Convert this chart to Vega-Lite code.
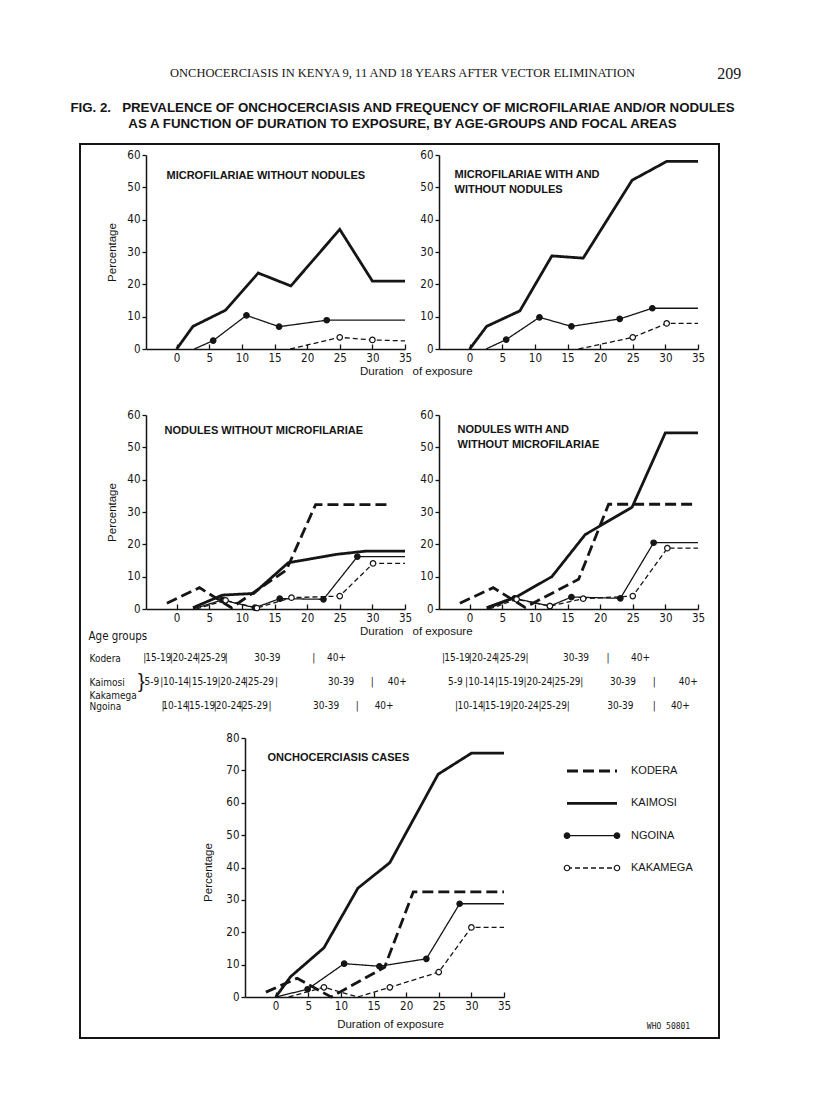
{
  "$schema": "https://vega.github.io/schema/vega-lite/v6.json",
  "background": "white",
  "padding": {"left": 68, "top": 66, "right": 20, "bottom": 40},
  "config": {
    "view": {"stroke": null},
    "axis": {"grid": false, "domainColor": "#151515", "domainWidth": 1.5, "tickColor": "#151515", "tickWidth": 1.3, "labelColor": "#151515", "labelFont": "Liberation Sans Narrow, DejaVu Sans Condensed, sans-serif", "labelFontSize": 11.5, "titleColor": "#151515", "titleFont": "Liberation Sans, sans-serif", "titleFontWeight": "normal", "titleFontSize": 11.5},
    "text": {"color": "#151515"},
    "title": {"color": "#151515", "subtitleColor": "#151515"}
  },
  "datasets": {
    "series": [
      {"panel":"A","area":"Kaimosi","duration":0,"percent":0,"point":"no"},
      {"panel":"A","area":"Kaimosi","duration":2.5,"percent":7,"point":"no"},
      {"panel":"A","area":"Kaimosi","duration":7.5,"percent":12,"point":"no"},
      {"panel":"A","area":"Kaimosi","duration":12.5,"percent":23.5,"point":"no"},
      {"panel":"A","area":"Kaimosi","duration":17.5,"percent":19.5,"point":"no"},
      {"panel":"A","area":"Kaimosi","duration":25,"percent":37,"point":"no"},
      {"panel":"A","area":"Kaimosi","duration":30,"percent":21,"point":"no"},
      {"panel":"A","area":"Kaimosi","duration":35,"percent":21,"point":"no"},
      {"panel":"A","area":"Ngoina","duration":2.7,"percent":0,"point":"no"},
      {"panel":"A","area":"Ngoina","duration":5.6,"percent":2.6,"point":"yes"},
      {"panel":"A","area":"Ngoina","duration":10.7,"percent":10.4,"point":"yes"},
      {"panel":"A","area":"Ngoina","duration":15.7,"percent":6.9,"point":"yes"},
      {"panel":"A","area":"Ngoina","duration":23,"percent":8.9,"point":"yes"},
      {"panel":"A","area":"Ngoina","duration":35,"percent":8.9,"point":"no"},
      {"panel":"A","area":"Kakamega","duration":17.4,"percent":0,"point":"no"},
      {"panel":"A","area":"Kakamega","duration":25,"percent":3.6,"point":"yes"},
      {"panel":"A","area":"Kakamega","duration":30,"percent":2.8,"point":"yes"},
      {"panel":"A","area":"Kakamega","duration":35,"percent":2.5,"point":"no"},

      {"panel":"B","area":"Kaimosi","duration":0,"percent":0,"point":"no"},
      {"panel":"B","area":"Kaimosi","duration":2.6,"percent":7,"point":"no"},
      {"panel":"B","area":"Kaimosi","duration":7.7,"percent":11.8,"point":"no"},
      {"panel":"B","area":"Kaimosi","duration":12.6,"percent":28.8,"point":"no"},
      {"panel":"B","area":"Kaimosi","duration":17.4,"percent":28.1,"point":"no"},
      {"panel":"B","area":"Kaimosi","duration":24.9,"percent":52.2,"point":"no"},
      {"panel":"B","area":"Kaimosi","duration":30.2,"percent":58,"point":"no"},
      {"panel":"B","area":"Kaimosi","duration":35,"percent":58,"point":"no"},
      {"panel":"B","area":"Ngoina","duration":2.5,"percent":0,"point":"no"},
      {"panel":"B","area":"Ngoina","duration":5.6,"percent":2.9,"point":"yes"},
      {"panel":"B","area":"Ngoina","duration":10.7,"percent":9.8,"point":"yes"},
      {"panel":"B","area":"Ngoina","duration":15.6,"percent":7,"point":"yes"},
      {"panel":"B","area":"Ngoina","duration":23,"percent":9.3,"point":"yes"},
      {"panel":"B","area":"Ngoina","duration":28,"percent":12.6,"point":"yes"},
      {"panel":"B","area":"Ngoina","duration":35,"percent":12.6,"point":"no"},
      {"panel":"B","area":"Kakamega","duration":16.7,"percent":0,"point":"no"},
      {"panel":"B","area":"Kakamega","duration":25,"percent":3.6,"point":"yes"},
      {"panel":"B","area":"Kakamega","duration":30.2,"percent":7.9,"point":"yes"},
      {"panel":"B","area":"Kakamega","duration":35,"percent":7.9,"point":"no"},

      {"panel":"C","area":"Kodera","duration":-1.5,"percent":1.8,"point":"no"},
      {"panel":"C","area":"Kodera","duration":3.5,"percent":6.6,"point":"no"},
      {"panel":"C","area":"Kodera","duration":8.4,"percent":0.4,"point":"no"},
      {"panel":"C","area":"Kodera","duration":16.8,"percent":12,"point":"no"},
      {"panel":"C","area":"Kodera","duration":21.3,"percent":32.3,"point":"no"},
      {"panel":"C","area":"Kodera","duration":32.7,"percent":32.3,"point":"no"},
      {"panel":"C","area":"Kaimosi","duration":2.5,"percent":0.4,"point":"no"},
      {"panel":"C","area":"Kaimosi","duration":7,"percent":4.3,"point":"no"},
      {"panel":"C","area":"Kaimosi","duration":11.8,"percent":4.8,"point":"no"},
      {"panel":"C","area":"Kaimosi","duration":17.1,"percent":14.3,"point":"no"},
      {"panel":"C","area":"Kaimosi","duration":24.5,"percent":16.9,"point":"no"},
      {"panel":"C","area":"Kaimosi","duration":29,"percent":17.9,"point":"no"},
      {"panel":"C","area":"Kaimosi","duration":35,"percent":17.9,"point":"no"},
      {"panel":"C","area":"Ngoina","duration":2.5,"percent":0,"point":"no"},
      {"panel":"C","area":"Ngoina","duration":7,"percent":2.8,"point":"yes"},
      {"panel":"C","area":"Ngoina","duration":12,"percent":0.4,"point":"yes"},
      {"panel":"C","area":"Ngoina","duration":15.8,"percent":3.2,"point":"yes"},
      {"panel":"C","area":"Ngoina","duration":22.5,"percent":3,"point":"yes"},
      {"panel":"C","area":"Ngoina","duration":27.7,"percent":16.2,"point":"yes"},
      {"panel":"C","area":"Ngoina","duration":35,"percent":16.2,"point":"no"},
      {"panel":"C","area":"Kakamega","duration":3,"percent":0,"point":"no"},
      {"panel":"C","area":"Kakamega","duration":7.5,"percent":2.7,"point":"yes"},
      {"panel":"C","area":"Kakamega","duration":12.3,"percent":0.3,"point":"yes"},
      {"panel":"C","area":"Kakamega","duration":17.6,"percent":3.5,"point":"yes"},
      {"panel":"C","area":"Kakamega","duration":25,"percent":4,"point":"yes"},
      {"panel":"C","area":"Kakamega","duration":30.1,"percent":14.1,"point":"yes"},
      {"panel":"C","area":"Kakamega","duration":35,"percent":14.1,"point":"no"},

      {"panel":"D","area":"Kodera","duration":-1.5,"percent":1.8,"point":"no"},
      {"panel":"D","area":"Kodera","duration":3.6,"percent":6.6,"point":"no"},
      {"panel":"D","area":"Kodera","duration":8.5,"percent":0.5,"point":"no"},
      {"panel":"D","area":"Kodera","duration":16.7,"percent":9.2,"point":"no"},
      {"panel":"D","area":"Kodera","duration":21.3,"percent":32.4,"point":"no"},
      {"panel":"D","area":"Kodera","duration":34.8,"percent":32.4,"point":"no"},
      {"panel":"D","area":"Kaimosi","duration":2.6,"percent":0.4,"point":"no"},
      {"panel":"D","area":"Kaimosi","duration":7.2,"percent":3.8,"point":"no"},
      {"panel":"D","area":"Kaimosi","duration":12.6,"percent":10,"point":"no"},
      {"panel":"D","area":"Kaimosi","duration":17.7,"percent":23,"point":"no"},
      {"panel":"D","area":"Kaimosi","duration":24.9,"percent":31.5,"point":"no"},
      {"panel":"D","area":"Kaimosi","duration":30,"percent":54.5,"point":"no"},
      {"panel":"D","area":"Kaimosi","duration":35,"percent":54.5,"point":"no"},
      {"panel":"D","area":"Ngoina","duration":2.6,"percent":0,"point":"no"},
      {"panel":"D","area":"Ngoina","duration":6.9,"percent":3.3,"point":"yes"},
      {"panel":"D","area":"Ngoina","duration":12.3,"percent":0.9,"point":"yes"},
      {"panel":"D","area":"Ngoina","duration":15.6,"percent":3.7,"point":"yes"},
      {"panel":"D","area":"Ngoina","duration":23.1,"percent":3.3,"point":"yes"},
      {"panel":"D","area":"Ngoina","duration":28.2,"percent":20.5,"point":"yes"},
      {"panel":"D","area":"Ngoina","duration":35,"percent":20.5,"point":"no"},
      {"panel":"D","area":"Kakamega","duration":3,"percent":0,"point":"no"},
      {"panel":"D","area":"Kakamega","duration":7.2,"percent":3,"point":"yes"},
      {"panel":"D","area":"Kakamega","duration":12.3,"percent":0.9,"point":"yes"},
      {"panel":"D","area":"Kakamega","duration":17.4,"percent":3.2,"point":"yes"},
      {"panel":"D","area":"Kakamega","duration":25,"percent":4,"point":"yes"},
      {"panel":"D","area":"Kakamega","duration":30.3,"percent":18.8,"point":"yes"},
      {"panel":"D","area":"Kakamega","duration":35,"percent":18.8,"point":"no"},

      {"panel":"E","area":"Kodera","duration":-1.5,"percent":1.5,"point":"no"},
      {"panel":"E","area":"Kodera","duration":3.3,"percent":5.8,"point":"no"},
      {"panel":"E","area":"Kodera","duration":8.5,"percent":0,"point":"no"},
      {"panel":"E","area":"Kodera","duration":16.7,"percent":9.2,"point":"no"},
      {"panel":"E","area":"Kodera","duration":21.1,"percent":32.5,"point":"no"},
      {"panel":"E","area":"Kodera","duration":35,"percent":32.5,"point":"no"},
      {"panel":"E","area":"Kaimosi","duration":0,"percent":0,"point":"no"},
      {"panel":"E","area":"Kaimosi","duration":2.3,"percent":6.3,"point":"no"},
      {"panel":"E","area":"Kaimosi","duration":7.4,"percent":15.2,"point":"no"},
      {"panel":"E","area":"Kaimosi","duration":12.6,"percent":33.6,"point":"no"},
      {"panel":"E","area":"Kaimosi","duration":17.5,"percent":41.5,"point":"no"},
      {"panel":"E","area":"Kaimosi","duration":24.9,"percent":68.8,"point":"no"},
      {"panel":"E","area":"Kaimosi","duration":30,"percent":75.3,"point":"no"},
      {"panel":"E","area":"Kaimosi","duration":35,"percent":75.3,"point":"no"},
      {"panel":"E","area":"Ngoina","duration":0,"percent":0,"point":"no"},
      {"panel":"E","area":"Ngoina","duration":4.9,"percent":2.4,"point":"yes"},
      {"panel":"E","area":"Ngoina","duration":10.5,"percent":10.3,"point":"yes"},
      {"panel":"E","area":"Ngoina","duration":15.9,"percent":9.5,"point":"yes"},
      {"panel":"E","area":"Ngoina","duration":23.1,"percent":11.8,"point":"yes"},
      {"panel":"E","area":"Ngoina","duration":28.2,"percent":28.8,"point":"yes"},
      {"panel":"E","area":"Ngoina","duration":35,"percent":28.8,"point":"no"},
      {"panel":"E","area":"Kakamega","duration":2,"percent":0,"point":"no"},
      {"panel":"E","area":"Kakamega","duration":7.4,"percent":3,"point":"yes"},
      {"panel":"E","area":"Kakamega","duration":12.6,"percent":0,"point":"no"},
      {"panel":"E","area":"Kakamega","duration":17.5,"percent":3,"point":"yes"},
      {"panel":"E","area":"Kakamega","duration":25,"percent":7.7,"point":"yes"},
      {"panel":"E","area":"Kakamega","duration":30,"percent":21.5,"point":"yes"},
      {"panel":"E","area":"Kakamega","duration":35,"percent":21.5,"point":"no"}
    ],
    "agegroups": [
      {"side":"left","area":"Kodera","duration":-4.9,"label":"|"},
      {"side":"left","area":"Kodera","duration":-2.8,"label":"15-19"},
      {"side":"left","area":"Kodera","duration":-0.8,"label":"|"},
      {"side":"left","area":"Kodera","duration":1.35,"label":"20-24"},
      {"side":"left","area":"Kodera","duration":3.4,"label":"|"},
      {"side":"left","area":"Kodera","duration":5.6,"label":"25-29"},
      {"side":"left","area":"Kodera","duration":7.6,"label":"|"},
      {"side":"left","area":"Kodera","duration":13.9,"label":"30-39"},
      {"side":"left","area":"Kodera","duration":21,"label":"|"},
      {"side":"left","area":"Kodera","duration":24.5,"label":"40+"},
      {"side":"left","area":"Kaimosi Kakamega","duration":-3.8,"label":"5-9"},
      {"side":"left","area":"Kaimosi Kakamega","duration":-2.3,"label":"|"},
      {"side":"left","area":"Kaimosi Kakamega","duration":-0.1,"label":"10-14"},
      {"side":"left","area":"Kaimosi Kakamega","duration":2,"label":"|"},
      {"side":"left","area":"Kaimosi Kakamega","duration":4.3,"label":"15-19"},
      {"side":"left","area":"Kaimosi Kakamega","duration":6.5,"label":"|"},
      {"side":"left","area":"Kaimosi Kakamega","duration":8.7,"label":"20-24"},
      {"side":"left","area":"Kaimosi Kakamega","duration":10.7,"label":"|"},
      {"side":"left","area":"Kaimosi Kakamega","duration":12.9,"label":"25-29"},
      {"side":"left","area":"Kaimosi Kakamega","duration":15.3,"label":"|"},
      {"side":"left","area":"Kaimosi Kakamega","duration":25.2,"label":"30-39"},
      {"side":"left","area":"Kaimosi Kakamega","duration":30,"label":"|"},
      {"side":"left","area":"Kaimosi Kakamega","duration":33.8,"label":"40+"},
      {"side":"left","area":"Ngoina","duration":-2.1,"label":"|"},
      {"side":"left","area":"Ngoina","duration":-0.2,"label":"10-14"},
      {"side":"left","area":"Ngoina","duration":1.8,"label":"|"},
      {"side":"left","area":"Ngoina","duration":3.9,"label":"15-19"},
      {"side":"left","area":"Ngoina","duration":5.9,"label":"|"},
      {"side":"left","area":"Ngoina","duration":8,"label":"20-24"},
      {"side":"left","area":"Ngoina","duration":10,"label":"|"},
      {"side":"left","area":"Ngoina","duration":12,"label":"25-29"},
      {"side":"left","area":"Ngoina","duration":14.3,"label":"|"},
      {"side":"left","area":"Ngoina","duration":22.9,"label":"30-39"},
      {"side":"left","area":"Ngoina","duration":27.7,"label":"|"},
      {"side":"left","area":"Ngoina","duration":31.8,"label":"40+"},
      {"side":"right","area":"Kodera","duration":-4,"label":"|"},
      {"side":"right","area":"Kodera","duration":-1.9,"label":"15-19"},
      {"side":"right","area":"Kodera","duration":0.1,"label":"|"},
      {"side":"right","area":"Kodera","duration":2.3,"label":"20-24"},
      {"side":"right","area":"Kodera","duration":4.3,"label":"|"},
      {"side":"right","area":"Kodera","duration":6.6,"label":"25-29"},
      {"side":"right","area":"Kodera","duration":8.8,"label":"|"},
      {"side":"right","area":"Kodera","duration":16.3,"label":"30-39"},
      {"side":"right","area":"Kodera","duration":21.2,"label":"|"},
      {"side":"right","area":"Kodera","duration":26.2,"label":"40+"},
      {"side":"right","area":"Kaimosi Kakamega","duration":-2.2,"label":"5-9"},
      {"side":"right","area":"Kaimosi Kakamega","duration":-0.5,"label":"|"},
      {"side":"right","area":"Kaimosi Kakamega","duration":1.8,"label":"10-14"},
      {"side":"right","area":"Kaimosi Kakamega","duration":4.1,"label":"|"},
      {"side":"right","area":"Kaimosi Kakamega","duration":6.3,"label":"15-19"},
      {"side":"right","area":"Kaimosi Kakamega","duration":8.5,"label":"|"},
      {"side":"right","area":"Kaimosi Kakamega","duration":10.7,"label":"20-24"},
      {"side":"right","area":"Kaimosi Kakamega","duration":12.8,"label":"|"},
      {"side":"right","area":"Kaimosi Kakamega","duration":15,"label":"25-29"},
      {"side":"right","area":"Kaimosi Kakamega","duration":17.2,"label":"|"},
      {"side":"right","area":"Kaimosi Kakamega","duration":23.5,"label":"30-39"},
      {"side":"right","area":"Kaimosi Kakamega","duration":28.3,"label":"|"},
      {"side":"right","area":"Kaimosi Kakamega","duration":33.5,"label":"40+"},
      {"side":"right","area":"Ngoina","duration":-2,"label":"|"},
      {"side":"right","area":"Ngoina","duration":0.15,"label":"10-14"},
      {"side":"right","area":"Ngoina","duration":2.2,"label":"|"},
      {"side":"right","area":"Ngoina","duration":4.3,"label":"15-19"},
      {"side":"right","area":"Ngoina","duration":6.5,"label":"|"},
      {"side":"right","area":"Ngoina","duration":8.6,"label":"20-24"},
      {"side":"right","area":"Ngoina","duration":10.8,"label":"|"},
      {"side":"right","area":"Ngoina","duration":12.9,"label":"25-29"},
      {"side":"right","area":"Ngoina","duration":15.1,"label":"|"},
      {"side":"right","area":"Ngoina","duration":23.1,"label":"30-39"},
      {"side":"right","area":"Ngoina","duration":28.3,"label":"|"},
      {"side":"right","area":"Ngoina","duration":32.3,"label":"40+"}
    ],
    "legend": [
      {"area":"Kodera","label":"KODERA"},
      {"area":"Kaimosi","label":"KAIMOSI"},
      {"area":"Ngoina","label":"NGOINA"},
      {"area":"Kakamega","label":"KAKAMEGA"}
    ]
  },
  "title": {"text": "209", "orient": "right", "anchor": "start", "angle": 0, "align": "left", "baseline": "top", "offset": -43, "frame": "bounds", "font": "Liberation Serif, serif", "fontSize": 16, "fontWeight": "normal"},
  "vconcat": [
    {
      "title": {"text": "WHO 50801", "orient": "bottom", "anchor": "end", "frame": "bounds", "offset": -16, "dx": -46, "baseline": "top", "font": "DejaVu Sans Mono, monospace", "fontSize": 8, "fontWeight": "normal"},
      "vconcat": [
        {
          "width": 639, "height": 894,
          "view": {"stroke": "#151515", "strokeWidth": 2},
          "title": {
            "text": "ONCHOCERCIASIS IN KENYA 9, 11 AND 18 YEARS AFTER VECTOR ELIMINATION",
            "subtitle": ["FIG. 2.\u00a0\u00a0\u00a0PREVALENCE OF ONCHOCERCIASIS AND FREQUENCY OF MICROFILARIAE AND/OR NODULES", "AS A FUNCTION OF DURATION TO EXPOSURE, BY AGE-GROUPS AND FOCAL AREAS"],
            "anchor": "middle", "frame": "group", "offset": 14, "dx": 3,
            "font": "Liberation Serif, serif", "fontSize": 12.5, "fontWeight": "normal",
            "subtitleFont": "Liberation Sans, sans-serif", "subtitleFontSize": 13.3, "subtitleFontWeight": "bold", "subtitlePadding": 21, "subtitleLineHeight": 16
          },
          "resolve": {"scale": {"x": "independent", "y": "independent"}, "axis": {"x": "independent", "y": "independent"}},
          "layer": [
            {
              "data": {"name": "series"},
              "resolve": {"axis": {"x": "independent"}},
              "encoding": {
                "y": {"field": "percent", "type": "quantitative", "scale": {"domain": [0, 60], "range": [205, 11], "nice": false, "zero": false}, "axis": {"orient": "left", "offset": -66, "values": [0,10,20,30,40,50,60], "title": "Percentage", "titleX": -34, "titleY": 108, "titleAngle": -90, "titleAlign": "center", "titleBaseline": "middle", "tickSize": 4, "labelPadding": 2}}
              },
              "layer": [
                {"transform": [{"filter": "datum.panel == 'A' && (datum.area == 'Kodera' || datum.area == 'Kaimosi')"}], "mark": {"type": "line", "strokeWidth": 2.8, "color": "#151515"}, "encoding": {"x": {"field": "duration", "type": "quantitative", "scale": {"domain": [-4.7, 35], "range": [66, 325], "nice": false, "zero": false}, "axis": {"orient": "bottom", "offset": -689, "values": [0,5,10,15,20,25,30,35], "title": "Duration", "titleX": 323, "titleY": 22, "titleAlign": "right", "titleBaseline": "middle", "tickSize": -5, "labelPadding": 8, "labelFlush": false, "labelOverlap": false}}, "strokeDash": {"field": "area", "type": "nominal", "scale": {"domain": ["Kodera","Kaimosi","Ngoina","Kakamega"], "range": [[11,5],[1,0],[1,0],[5,3]]}, "legend": null}}},
                {"transform": [{"filter": "datum.panel == 'A' && (datum.area == 'Ngoina' || datum.area == 'Kakamega')"}], "mark": {"type": "line", "strokeWidth": 1.3, "color": "#151515"}, "encoding": {"x": {"field": "duration", "type": "quantitative", "scale": {"domain": [-4.7, 35], "range": [66, 325], "nice": false, "zero": false}, "axis": null}, "strokeDash": {"field": "area", "type": "nominal", "scale": {"domain": ["Kodera","Kaimosi","Ngoina","Kakamega"], "range": [[11,5],[1,0],[1,0],[5,3]]}, "legend": null}}},
                {"transform": [{"filter": "datum.panel == 'A' && datum.point == 'yes'"}], "mark": {"type": "point", "shape": "circle", "filled": true, "size": 30, "stroke": "#151515", "strokeWidth": 1.2, "opacity": 1}, "encoding": {"x": {"field": "duration", "type": "quantitative", "scale": {"domain": [-4.7, 35], "range": [66, 325], "nice": false, "zero": false}, "axis": {"orient": "top", "offset": 0, "domain": false, "ticks": false, "labels": false, "title": "MICROFILARIAE WITHOUT NODULES", "titleX": 86, "titleY": 34, "titleAngle": 0, "titleAlign": "left", "titleBaseline": "alphabetic", "titleFont": "Liberation Sans, sans-serif", "titleFontSize": 11, "titleFontWeight": "bold"}}, "fill": {"field": "area", "type": "nominal", "scale": {"domain": ["Ngoina","Kakamega"], "range": ["#151515","#ffffff"]}, "legend": null}}}
              ]
            },
            {
              "data": {"name": "series"},
              "resolve": {"axis": {"x": "independent"}},
              "encoding": {
                "y": {"field": "percent", "type": "quantitative", "scale": {"domain": [0, 60], "range": [205, 11], "nice": false, "zero": false}, "axis": {"orient": "left", "offset": -359, "values": [0,10,20,30,40,50,60], "title": null, "tickSize": 4, "labelPadding": 2}}
              },
              "layer": [
                {"transform": [{"filter": "datum.panel == 'B' && (datum.area == 'Kodera' || datum.area == 'Kaimosi')"}], "mark": {"type": "line", "strokeWidth": 2.8, "color": "#151515"}, "encoding": {"x": {"field": "duration", "type": "quantitative", "scale": {"domain": [-4.7, 35], "range": [359, 618], "nice": false, "zero": false}, "axis": {"orient": "bottom", "offset": -689, "values": [0,5,10,15,20,25,30,35], "title": "of exposure", "titleX": 332, "titleY": 22, "titleAlign": "left", "titleBaseline": "middle", "tickSize": -5, "labelPadding": 8, "labelFlush": false, "labelOverlap": false}}, "strokeDash": {"field": "area", "type": "nominal", "scale": {"domain": ["Kodera","Kaimosi","Ngoina","Kakamega"], "range": [[11,5],[1,0],[1,0],[5,3]]}, "legend": null}}},
                {"transform": [{"filter": "datum.panel == 'B' && (datum.area == 'Ngoina' || datum.area == 'Kakamega')"}], "mark": {"type": "line", "strokeWidth": 1.3, "color": "#151515"}, "encoding": {"x": {"field": "duration", "type": "quantitative", "scale": {"domain": [-4.7, 35], "range": [359, 618], "nice": false, "zero": false}, "axis": null}, "strokeDash": {"field": "area", "type": "nominal", "scale": {"domain": ["Kodera","Kaimosi","Ngoina","Kakamega"], "range": [[11,5],[1,0],[1,0],[5,3]]}, "legend": null}}},
                {"transform": [{"filter": "datum.panel == 'B' && datum.point == 'yes'"}], "mark": {"type": "point", "shape": "circle", "filled": true, "size": 30, "stroke": "#151515", "strokeWidth": 1.2, "opacity": 1}, "encoding": {"x": {"field": "duration", "type": "quantitative", "scale": {"domain": [-4.7, 35], "range": [359, 618], "nice": false, "zero": false}, "axis": {"orient": "top", "offset": 0, "domain": false, "ticks": false, "labels": false, "title": ["MICROFILARIAE WITH AND", "WITHOUT NODULES"], "titleX": 374, "titleY": 33, "titleAngle": 0, "titleAlign": "left", "titleBaseline": "alphabetic", "titleLineHeight": 15, "titleFont": "Liberation Sans, sans-serif", "titleFontSize": 11, "titleFontWeight": "bold"}}, "fill": {"field": "area", "type": "nominal", "scale": {"domain": ["Ngoina","Kakamega"], "range": ["#151515","#ffffff"]}, "legend": null}}}
              ]
            },
            {
              "data": {"name": "series"},
              "resolve": {"axis": {"x": "independent"}},
              "encoding": {
                "y": {"field": "percent", "type": "quantitative", "scale": {"domain": [0, 60], "range": [465, 271], "nice": false, "zero": false}, "axis": {"orient": "left", "offset": -66, "values": [0,10,20,30,40,50,60], "title": "Percentage", "titleX": -34, "titleY": 368, "titleAngle": -90, "titleAlign": "center", "titleBaseline": "middle", "tickSize": 4, "labelPadding": 2}}
              },
              "layer": [
                {"transform": [{"filter": "datum.panel == 'C' && (datum.area == 'Kodera' || datum.area == 'Kaimosi')"}], "mark": {"type": "line", "strokeWidth": 2.8, "color": "#151515"}, "encoding": {"x": {"field": "duration", "type": "quantitative", "scale": {"domain": [-4.7, 35], "range": [66, 325], "nice": false, "zero": false}, "axis": {"orient": "bottom", "offset": -429, "values": [0,5,10,15,20,25,30,35], "title": "Duration", "titleX": 323, "titleY": 22, "titleAlign": "right", "titleBaseline": "middle", "tickSize": -5, "labelPadding": 8, "labelFlush": false, "labelOverlap": false}}, "strokeDash": {"field": "area", "type": "nominal", "scale": {"domain": ["Kodera","Kaimosi","Ngoina","Kakamega"], "range": [[11,5],[1,0],[1,0],[5,3]]}, "legend": null}}},
                {"transform": [{"filter": "datum.panel == 'C' && (datum.area == 'Ngoina' || datum.area == 'Kakamega')"}], "mark": {"type": "line", "strokeWidth": 1.3, "color": "#151515"}, "encoding": {"x": {"field": "duration", "type": "quantitative", "scale": {"domain": [-4.7, 35], "range": [66, 325], "nice": false, "zero": false}, "axis": null}, "strokeDash": {"field": "area", "type": "nominal", "scale": {"domain": ["Kodera","Kaimosi","Ngoina","Kakamega"], "range": [[11,5],[1,0],[1,0],[5,3]]}, "legend": null}}},
                {"transform": [{"filter": "datum.panel == 'C' && datum.point == 'yes'"}], "mark": {"type": "point", "shape": "circle", "filled": true, "size": 30, "stroke": "#151515", "strokeWidth": 1.2, "opacity": 1}, "encoding": {"x": {"field": "duration", "type": "quantitative", "scale": {"domain": [-4.7, 35], "range": [66, 325], "nice": false, "zero": false}, "axis": {"orient": "top", "offset": 0, "domain": false, "ticks": false, "labels": false, "title": "NODULES WITHOUT MICROFILARIAE", "titleX": 84, "titleY": 289, "titleAngle": 0, "titleAlign": "left", "titleBaseline": "alphabetic", "titleFont": "Liberation Sans, sans-serif", "titleFontSize": 11, "titleFontWeight": "bold"}}, "fill": {"field": "area", "type": "nominal", "scale": {"domain": ["Ngoina","Kakamega"], "range": ["#151515","#ffffff"]}, "legend": null}}}
              ]
            },
            {
              "data": {"name": "series"},
              "resolve": {"axis": {"x": "independent"}},
              "encoding": {
                "y": {"field": "percent", "type": "quantitative", "scale": {"domain": [0, 60], "range": [465, 271], "nice": false, "zero": false}, "axis": {"orient": "left", "offset": -359, "values": [0,10,20,30,40,50,60], "title": null, "tickSize": 4, "labelPadding": 2}}
              },
              "layer": [
                {"transform": [{"filter": "datum.panel == 'D' && (datum.area == 'Kodera' || datum.area == 'Kaimosi')"}], "mark": {"type": "line", "strokeWidth": 2.8, "color": "#151515"}, "encoding": {"x": {"field": "duration", "type": "quantitative", "scale": {"domain": [-4.7, 35], "range": [359, 618], "nice": false, "zero": false}, "axis": {"orient": "bottom", "offset": -429, "values": [0,5,10,15,20,25,30,35], "title": "of exposure", "titleX": 332, "titleY": 22, "titleAlign": "left", "titleBaseline": "middle", "tickSize": -5, "labelPadding": 8, "labelFlush": false, "labelOverlap": false}}, "strokeDash": {"field": "area", "type": "nominal", "scale": {"domain": ["Kodera","Kaimosi","Ngoina","Kakamega"], "range": [[11,5],[1,0],[1,0],[5,3]]}, "legend": null}}},
                {"transform": [{"filter": "datum.panel == 'D' && (datum.area == 'Ngoina' || datum.area == 'Kakamega')"}], "mark": {"type": "line", "strokeWidth": 1.3, "color": "#151515"}, "encoding": {"x": {"field": "duration", "type": "quantitative", "scale": {"domain": [-4.7, 35], "range": [359, 618], "nice": false, "zero": false}, "axis": null}, "strokeDash": {"field": "area", "type": "nominal", "scale": {"domain": ["Kodera","Kaimosi","Ngoina","Kakamega"], "range": [[11,5],[1,0],[1,0],[5,3]]}, "legend": null}}},
                {"transform": [{"filter": "datum.panel == 'D' && datum.point == 'yes'"}], "mark": {"type": "point", "shape": "circle", "filled": true, "size": 30, "stroke": "#151515", "strokeWidth": 1.2, "opacity": 1}, "encoding": {"x": {"field": "duration", "type": "quantitative", "scale": {"domain": [-4.7, 35], "range": [359, 618], "nice": false, "zero": false}, "axis": {"orient": "top", "offset": 0, "domain": false, "ticks": false, "labels": false, "title": ["NODULES WITH AND", "WITHOUT MICROFILARIAE"], "titleX": 377, "titleY": 288, "titleAngle": 0, "titleAlign": "left", "titleBaseline": "alphabetic", "titleLineHeight": 15, "titleFont": "Liberation Sans, sans-serif", "titleFontSize": 11, "titleFontWeight": "bold"}}, "fill": {"field": "area", "type": "nominal", "scale": {"domain": ["Ngoina","Kakamega"], "range": ["#151515","#ffffff"]}, "legend": null}}}
              ]
            },
            {
              "data": {"name": "series"},
              "resolve": {"axis": {"x": "independent"}},
              "encoding": {
                "y": {"field": "percent", "type": "quantitative", "scale": {"domain": [0, 80], "range": [853, 594], "nice": false, "zero": false}, "axis": {"orient": "left", "offset": -165, "values": [0,10,20,30,40,50,60,70,80], "title": "Percentage", "titleX": -37, "titleY": 728, "titleAngle": -90, "titleAlign": "center", "titleBaseline": "middle", "tickSize": 4, "labelPadding": 2}}
              },
              "layer": [
                {"transform": [{"filter": "datum.panel == 'E' && (datum.area == 'Kodera' || datum.area == 'Kaimosi')"}], "mark": {"type": "line", "strokeWidth": 2.8, "color": "#151515"}, "encoding": {"x": {"field": "duration", "type": "quantitative", "scale": {"domain": [-4.7, 35], "range": [165, 424], "nice": false, "zero": false}, "axis": {"orient": "bottom", "offset": -41, "values": [0,5,10,15,20,25,30,35], "title": "Duration of exposure", "titleX": 310, "titleY": 27, "titleAlign": "center", "titleBaseline": "middle", "tickSize": -5, "labelPadding": 8, "labelFlush": false, "labelOverlap": false}}, "strokeDash": {"field": "area", "type": "nominal", "scale": {"domain": ["Kodera","Kaimosi","Ngoina","Kakamega"], "range": [[11,5],[1,0],[1,0],[5,3]]}, "legend": null}}},
                {"transform": [{"filter": "datum.panel == 'E' && (datum.area == 'Ngoina' || datum.area == 'Kakamega')"}], "mark": {"type": "line", "strokeWidth": 1.3, "color": "#151515"}, "encoding": {"x": {"field": "duration", "type": "quantitative", "scale": {"domain": [-4.7, 35], "range": [165, 424], "nice": false, "zero": false}, "axis": null}, "strokeDash": {"field": "area", "type": "nominal", "scale": {"domain": ["Kodera","Kaimosi","Ngoina","Kakamega"], "range": [[11,5],[1,0],[1,0],[5,3]]}, "legend": null}}},
                {"transform": [{"filter": "datum.panel == 'E' && datum.point == 'yes'"}], "mark": {"type": "point", "shape": "circle", "filled": true, "size": 30, "stroke": "#151515", "strokeWidth": 1.2, "opacity": 1}, "encoding": {"x": {"field": "duration", "type": "quantitative", "scale": {"domain": [-4.7, 35], "range": [165, 424], "nice": false, "zero": false}, "axis": {"orient": "top", "offset": 0, "domain": false, "ticks": false, "labels": false, "title": "ONCHOCERCIASIS CASES", "titleX": 187, "titleY": 616, "titleAngle": 0, "titleAlign": "left", "titleBaseline": "alphabetic", "titleFont": "Liberation Sans, sans-serif", "titleFontSize": 11, "titleFontWeight": "bold"}}, "fill": {"field": "area", "type": "nominal", "scale": {"domain": ["Ngoina","Kakamega"], "range": ["#151515","#ffffff"]}, "legend": null}}}
              ]
            },
            {
              "encoding": {
                "y": {"field": "area", "type": "nominal", "scale": {"type": "point", "domain": ["Kodera", "Kaimosi Kakamega", "Ngoina"], "range": [514, 562], "padding": 0}, "axis": {"orient": "left", "offset": -66, "title": "Age groups", "titleAngle": 0, "titleX": -58, "titleY": 492, "titleAlign": "left", "titleBaseline": "middle", "titleFont": "Liberation Sans Narrow, DejaVu Sans Condensed, sans-serif", "titleFontSize": 11.5, "domain": false, "ticks": false, "labelAlign": "left", "labelPadding": 57, "labelBaseline": "middle", "labelFontSize": 10, "labelExpr": "datum.value == 'Kaimosi Kakamega' ? ['Kaimosi', 'Kakamega'] : datum.label", "labelLineHeight": 13}}
              },
              "layer": [
                {
                  "data": {"name": "agegroups"},
                  "transform": [{"filter": "datum.side == 'left'"}],
                  "mark": {"type": "text", "font": "Liberation Sans Narrow, DejaVu Sans Condensed, sans-serif", "fontSize": 10, "baseline": "middle"},
                  "encoding": {"x": {"field": "duration", "type": "quantitative", "scale": {"domain": [-4.7, 35], "range": [66, 325], "nice": false, "zero": false}, "axis": null}, "text": {"field": "label"}}
                },
                {
                  "data": {"values": [{"area": "Kaimosi Kakamega"}]},
                  "mark": {"type": "text", "text": "}", "font": "Liberation Sans, sans-serif", "fontSize": 20, "baseline": "middle"},
                  "encoding": {"x": {"datum": -5.4, "type": "quantitative"}}
                }
              ]
            },
            {
              "data": {"name": "agegroups"},
              "transform": [{"filter": "datum.side == 'right'"}],
              "mark": {"type": "text", "font": "Liberation Sans Narrow, DejaVu Sans Condensed, sans-serif", "fontSize": 10, "baseline": "middle"},
              "encoding": {
                "x": {"field": "duration", "type": "quantitative", "scale": {"domain": [-4.7, 35], "range": [359, 618], "nice": false, "zero": false}, "axis": null},
                "y": {"field": "area", "type": "nominal", "scale": {"type": "point", "domain": ["Kodera", "Kaimosi Kakamega", "Ngoina"], "range": [514, 562], "padding": 0}, "axis": null},
                "text": {"field": "label"}
              }
            },
            {
              "data": {"name": "legend"},
              "encoding": {
                "y": {"field": "area", "type": "nominal", "scale": {"type": "point", "domain": ["Kodera","Kaimosi","Ngoina","Kakamega"], "range": [627, 724], "padding": 0}, "axis": null}
              },
              "layer": [
                {"transform": [{"filter": "datum.area == 'Kodera' || datum.area == 'Kaimosi'"}], "mark": {"type": "rule", "strokeWidth": 2.8, "color": "#151515"}, "encoding": {"x": {"datum": 0, "type": "quantitative", "scale": {"domain": [0, 1], "range": [487, 537], "nice": false, "zero": false}, "axis": null}, "x2": {"datum": 1}, "strokeDash": {"field": "area", "type": "nominal", "scale": {"domain": ["Kodera","Kaimosi","Ngoina","Kakamega"], "range": [[11,5],[1,0],[1,0],[5,3]]}, "legend": null}}},
                {"transform": [{"filter": "datum.area == 'Ngoina' || datum.area == 'Kakamega'"}], "mark": {"type": "rule", "strokeWidth": 1.3, "color": "#151515"}, "encoding": {"x": {"datum": 0, "type": "quantitative"}, "x2": {"datum": 1}, "strokeDash": {"field": "area", "type": "nominal", "scale": {"domain": ["Kodera","Kaimosi","Ngoina","Kakamega"], "range": [[11,5],[1,0],[1,0],[5,3]]}, "legend": null}}},
                {"transform": [{"filter": "datum.area == 'Ngoina' || datum.area == 'Kakamega'"}], "mark": {"type": "point", "shape": "circle", "filled": true, "size": 30, "stroke": "#151515", "strokeWidth": 1.2, "opacity": 1}, "encoding": {"x": {"datum": 0, "type": "quantitative"}, "fill": {"field": "area", "type": "nominal", "scale": {"domain": ["Ngoina","Kakamega"], "range": ["#151515","#ffffff"]}, "legend": null}}},
                {"transform": [{"filter": "datum.area == 'Ngoina' || datum.area == 'Kakamega'"}], "mark": {"type": "point", "shape": "circle", "filled": true, "size": 30, "stroke": "#151515", "strokeWidth": 1.2, "opacity": 1}, "encoding": {"x": {"datum": 1, "type": "quantitative"}, "fill": {"field": "area", "type": "nominal", "scale": {"domain": ["Ngoina","Kakamega"], "range": ["#151515","#ffffff"]}, "legend": null}}},
                {"mark": {"type": "text", "align": "left", "baseline": "middle", "dx": 14, "font": "Liberation Sans, sans-serif", "fontSize": 11}, "encoding": {"x": {"datum": 1, "type": "quantitative"}, "text": {"field": "label"}}}
              ]
            }
          ]
        }
      ]
    }
  ]
}
